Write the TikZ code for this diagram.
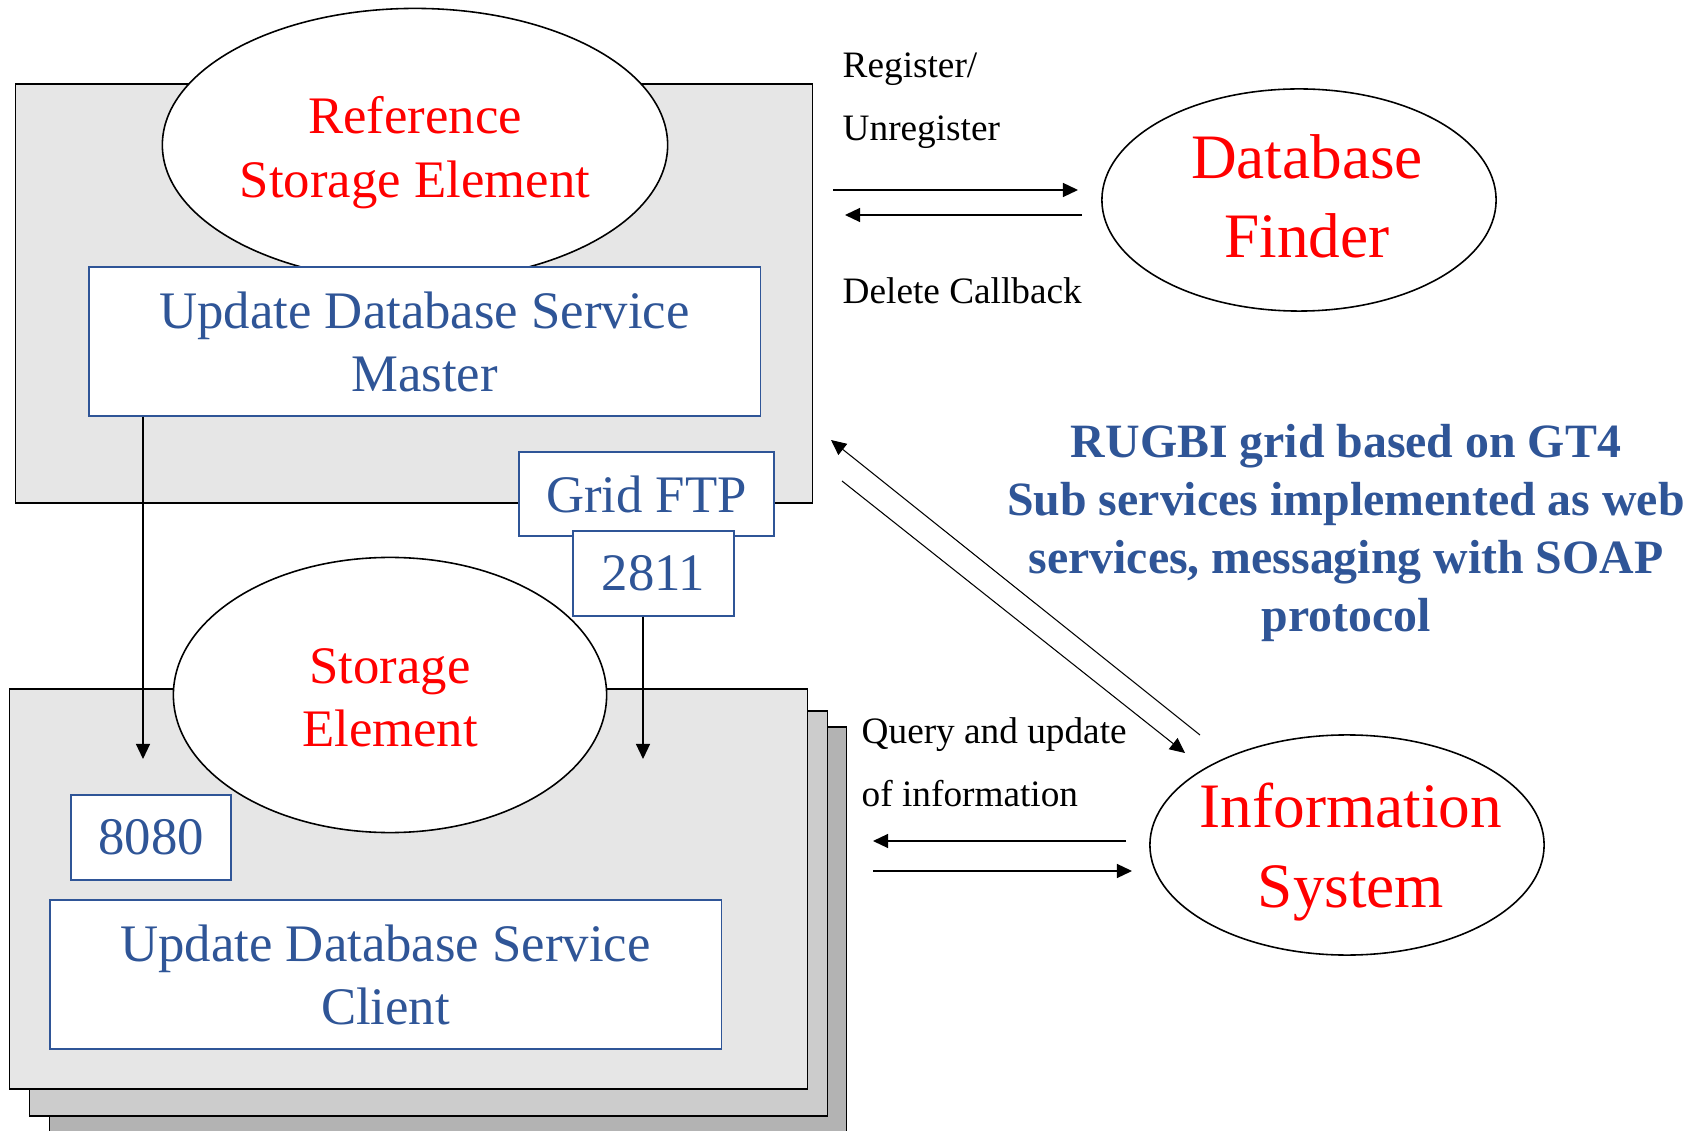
\documentclass[tikz,border=0pt]{standalone}
\usepackage{fontspec}
\setmainfont{Liberation Serif}
\usetikzlibrary{arrows.meta,shapes.geometric}

\definecolor{svcblue}{RGB}{47,85,151}
\definecolor{panelgray}{RGB}{230,230,230}
\definecolor{pagegray}{RGB}{204,204,204}
\definecolor{backgray}{RGB}{179,179,179}

\begin{document}
\begin{tikzpicture}[x=0.01cm, y=-0.01cm,
  panel/.style={draw, line width=0.4pt, fill=#1, inner sep=0pt},
  bubble/.style={draw, ellipse, fill=white, line width=0.45pt, inner sep=0pt},
  svcbox/.style={draw=svcblue, fill=white, line width=0.4pt, inner sep=0pt, align=center,
    text=svcblue, font=\fontsize{15}{17.9}\selectfont},
  redtxt/.style={text=red, align=center, font=\fontsize{15}{18}\selectfont},
  bigred/.style={text=red, align=center, font=\fontsize{18}{22.5}\selectfont},
  note/.style={align=left, inner sep=0pt, font=\fontsize{10.6}{17.9}\selectfont},
  arr/.style={-{Triangle[length=4.3pt,width=4pt]}, line width=0.4pt}
]
\useasboundingbox (0,0) rectangle (1688,1131);
\clip (0,0) rectangle (1688,1131);

% stack of storage elements
\node[panel=backgray, minimum width=7.96cm, minimum height=4.13cm] (layer3) at (448,933.5) {};
\node[panel=pagegray, minimum width=7.97cm, minimum height=4.05cm] (layer2) at (428.5,913.5) {};
\node[panel=panelgray, minimum width=7.97cm, minimum height=4.00cm] (sebox) at (408.5,889) {};

\node[bubble, minimum width=4.33cm, minimum height=2.75cm,
  label={[redtxt, yshift=-0.03cm]center:Storage\\Element}] (se) at (390,695) {};
\node[svcbox, minimum width=1.60cm, minimum height=0.85cm] (port8080) at (151,837.5) {8080};
\node[svcbox, minimum width=6.71cm, minimum height=1.49cm] (client) at (385.5,974.5)
  {Update Database Service\\Client};

% reference storage element
\node[panel=panelgray, minimum width=7.96cm, minimum height=4.19cm] (topbox) at (414,293.5) {};
\node[bubble, minimum width=5.05cm, minimum height=2.73cm,
  label={[redtxt, yshift=-0.075cm]center:Reference\\Storage Element}] (ref) at (415,145) {};
\node[svcbox, minimum width=6.71cm, minimum height=1.49cm] (master) at (424.5,341.5)
  {Update Database Service\\Master};
\node[svcbox, minimum width=2.55cm, minimum height=0.84cm] (gridftp) at (646.5,494) {Grid FTP};
\node[svcbox, minimum width=1.61cm, minimum height=0.85cm] (port2811) at (653.5,573.5) {2811};

% master -> client, gridftp transfer
\coordinate (dropA) at (143,759);
\coordinate (dropB) at (643,759);
\draw[arr] (master.south -| dropA) -- (dropA);
\draw[arr] (port2811.south -| dropB) -- (dropB);

% services
\node[bubble, minimum width=3.94cm, minimum height=2.22cm,
  label={[bigred, xshift=0.08cm, yshift=0.04cm]center:Database\\Finder}] (dbf) at (1299,200) {};
\node[bubble, minimum width=3.94cm, minimum height=2.20cm,
  label={[bigred, xshift=0.04cm, yshift=-0.07cm]center:Information\\System}] (infosys) at (1347,845) {};

% register / delete callback
\coordinate (regA) at (833,190);
\coordinate (regB) at (1078,190);
\coordinate (cbA) at (1082,215);
\coordinate (cbB) at (845,215);
\draw[arr] (regA) -- (regB);
\draw[arr] (cbA) -- (cbB);
\node[note, anchor=west] (reglbl) at (842,100.5) {Register/\\Unregister};
\node[note, anchor=base west] (cblbl) at (842,304) {Delete Callback};

% traffic between reference SE and information system
\coordinate (isA) at (1200,735);
\coordinate (isB) at (831,440);
\coordinate (isC) at (842,481);
\coordinate (isD) at (1185,753);
\draw[arr, line width=0.3pt] (isA) -- (isB);
\draw[arr, line width=0.3pt] (isC) -- (isD);

% query and update
\coordinate (qA) at (1126,841);
\coordinate (qB) at (873,841);
\coordinate (qC) at (873,871);
\coordinate (qD) at (1132,871);
\draw[arr] (qA) -- (qB);
\draw[arr] (qC) -- (qD);
\node[note, anchor=west] (qlbl) at (861,762) {Query and update\\of information};

\node[align=center, inner sep=0pt, text=svcblue, font=\bfseries\fontsize{13.6}{16.4}\selectfont]
  (gridnote) at (1346,533)
  {RUGBI grid based on GT4\\Sub services implemented as web\\services, messaging with SOAP\\protocol};
\end{tikzpicture}
\end{document}
